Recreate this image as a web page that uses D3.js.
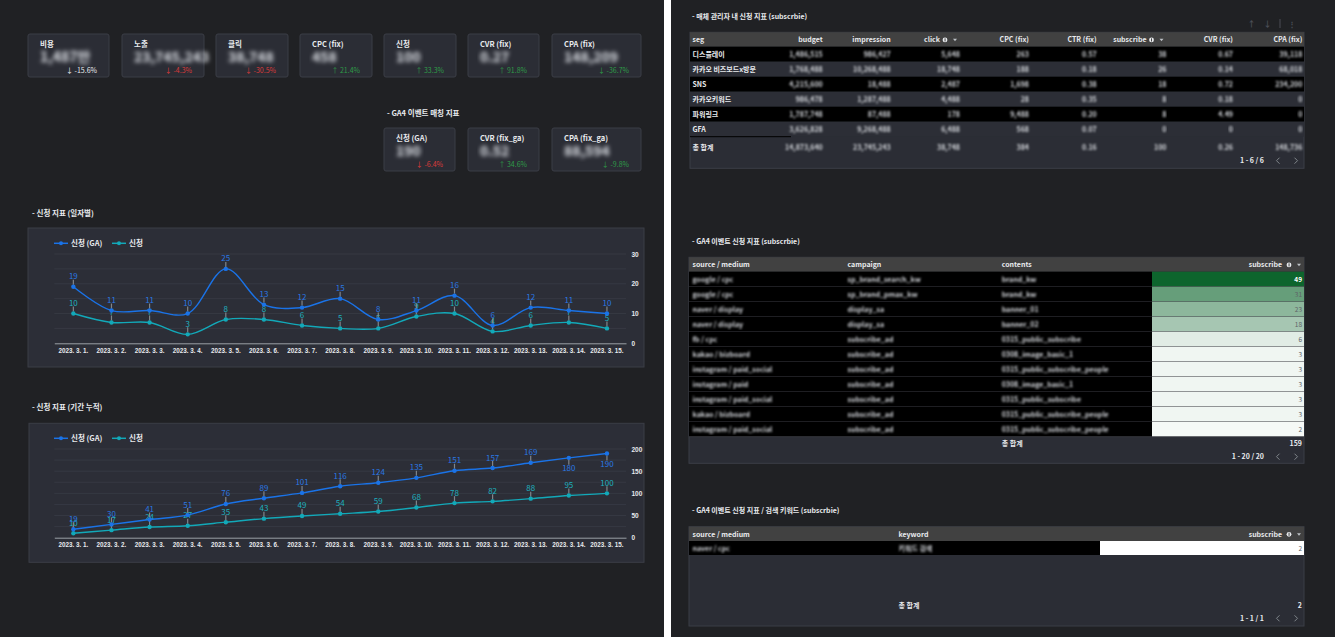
<!DOCTYPE html>
<html>
<head>
<meta charset="utf-8">
<script src="https://cdn.jsdelivr.net/npm/d3@7"></script>
<style>
  html, body { margin: 0; padding: 0; background: #202124; }
  svg { display: block; font-family: "Noto Sans CJK KR", "Noto Sans", sans-serif; }
</style>
</head>
<body>
<svg id="dash" width="1335" height="637"></svg>
<script>
// ---- KPI scorecards ----
const kpiLabels = ['비용', '노출', '클릭', 'CPC (fix)', '신청', 'CVR (fix)', 'CPA (fix)'];
const kpiValues = ['1,487만', '23,745,243', '38,748', '458', '100', '0.27', '148,209'];
const kpiDeltas = ['-15.6%', '-4.3%', '-30.5%', '21.4%', '33.3%', '91.8%', '-36.7%'];
const kpiTones  = ['flat', 'bad', 'bad', 'good', 'good', 'good', 'good'];

const gaLabels = ['신청 (GA)', 'CVR (fix_ga)', 'CPA (fix_ga)'];
const gaValues = ['190', '0.52', '88,594'];
const gaDeltas = ['-6.4%', '34.6%', '-9.8%'];
const gaTones  = ['bad', 'good', 'good'];

// ---- line charts ----
const dates = ['2023. 3. 1.', '2023. 3. 2.', '2023. 3. 3.', '2023. 3. 4.', '2023. 3. 5.',
  '2023. 3. 6.', '2023. 3. 7.', '2023. 3. 8.', '2023. 3. 9.', '2023. 3. 10.',
  '2023. 3. 11.', '2023. 3. 12.', '2023. 3. 13.', '2023. 3. 14.', '2023. 3. 15.'];
const dailyGA     = [19, 11, 11, 10, 25, 13, 12, 15, 8, 11, 16, 6, 12, 11, 10];
const dailySignup = [10, 7, 7, 3, 8, 8, 6, 5, 5, 9, 10, 4, 6, 7, 5];
const cumGA       = [19, 30, 41, 51, 76, 89, 101, 116, 124, 135, 151, 157, 169, 180, 190];
const cumSignup   = [10, 17, 24, 27, 35, 43, 49, 54, 59, 68, 78, 82, 88, 95, 100];
const seriesNames = ['신청 (GA)', '신청'];

// ---- table 1 : media manager ----
const segNames   = ['디스플레이', '카카오 비즈보드x방문', 'SNS', '카카오키워드', '파워링크', 'GFA'];
const segBudget  = ['1,486,515', '1,768,488', '4,215,600', '986,478', '1,787,748', '3,626,828'];
const segImpr    = ['986,427', '10,268,488', '18,488', '1,287,488', '87,488', '9,268,488'];
const segClick   = ['5,648', '18,748', '2,487', '4,488', '178', '6,488'];
const segCpc     = ['263', '188', '1,698', '28', '9,488', '568'];
const segCtr     = ['0.57', '0.18', '0.38', '0.35', '0.20', '0.07'];
const segSubs    = ['38', '26', '18', '8', '8', '0'];
const segCvr     = ['0.67', '0.14', '0.72', '0.18', '4.49', '0'];
const segCpa     = ['39,118', '68,018', '234,200', '0', '0', '0'];
const segTotal   = ['14,873,640', '23,745,243', '38,748', '384', '0.16', '100', '0.26', '148,736'];
const table1Heads = ['budget', 'impression', 'click', 'CPC (fix)', 'CTR (fix)', 'subscribe', 'CVR (fix)', 'CPA (fix)'];

// ---- table 2 : GA4 event subscribe ----
const srcMedium = ['google / cpc', 'google / cpc', 'naver / display', 'naver / display', 'fb / cpc',
  'kakao / bizboard', 'instagram / paid_social', 'instagram / paid', 'instagram / paid_social',
  'kakao / bizboard', 'instagram / paid_social'];
const campaigns = ['sp_brand_search_kw', 'sp_brand_pmax_kw', 'display_sa', 'display_sa', 'subscribe_ad',
  'subscribe_ad', 'subscribe_ad', 'subscribe_ad', 'subscribe_ad', 'subscribe_ad', 'subscribe_ad'];
const contents  = ['brand_kw', 'brand_kw', 'banner_01', 'banner_02', '0315_public_subscribe',
  '0308_image_basic_1', '0315_public_subscribe_people', '0308_image_basic_1', '0315_public_subscribe',
  '0315_public_subscribe_people', '0315_public_subscribe_people'];
const gaSubs    = [49, 31, 23, 18, 6, 3, 3, 3, 3, 3, 2];
const gaSubsTotal = 159;

// ---- table 3 : search keyword ----
const kwSource  = ['naver / cpc'];
const kwKeyword = ['키워드 검색'];
const kwSubs    = [2];

const colors = {
  page: '#202124', card: '#2b2d35', cardStroke: '#3b3e46', chartCard: '#2c2e37',
  grid: '#363943', text: '#e8eaed', ga: '#1a73e8', signup: '#12a9b9',
  good: '#2e9a48', bad: '#d93b3b', header: '#414141', rowAlt: '#2c2e36'
};

const svg = d3.select('#dash');

// blur filters for masked numbers
const defs = svg.append('defs');
defs.append('filter').attr('id', 'blurBig').append('feGaussianBlur').attr('stdDeviation', 2);
defs.append('filter').attr('id', 'blurSmall').append('feGaussianBlur').attr('stdDeviation', 1.2);

// background + white divider between the two pages
svg.append('rect').attr('width', 1335).attr('height', 637).attr('fill', colors.page);
svg.append('rect').attr('x', 664).attr('width', 7).attr('height', 637).attr('fill', '#ffffff');

// ---------- scorecards ----------
function scorecards(labels, values, deltas, tones, xs, widths, top) {
  labels.forEach((label, i) => {
    const g = svg.append('g').attr('transform', `translate(${xs[i]},${top})`);
    const w = widths[i];
    g.append('rect').attr('width', w).attr('height', 43).attr('rx', 2)
      .attr('fill', colors.card).attr('stroke', colors.cardStroke);
    g.append('text').attr('x', 12).attr('y', 13).attr('fill', colors.text)
      .style('font-size', '7.5px').style('font-weight', 700).text(label);
    g.append('text').attr('x', 12).attr('y', 28).attr('fill', '#dde0e6')
      .attr('filter', 'url(#blurBig)')
      .style('font-size', '14px').style('font-weight', 700).text(values[i]);
    const up = !deltas[i].startsWith('-');
    const col = tones[i] === 'good' ? colors.good : tones[i] === 'bad' ? colors.bad : colors.text;
    g.append('text').attr('x', w - 12).attr('y', 39).attr('text-anchor', 'end').attr('fill', col)
      .style('font-size', '7px')
      .text((up ? '↑ ' : '↓ ') + deltas[i]);
  });
}

scorecards(kpiLabels, kpiValues, kpiDeltas, kpiTones,
  [28, 122, 216, 300, 384, 468, 552], [81, 82, 72, 72, 72, 71, 89], 34);

svg.append('text').attr('x', 387).attr('y', 115.5).attr('fill', colors.text)
  .style('font-size', '7.5px').style('font-weight', 700).text('- GA4 이벤트 매칭 지표');

scorecards(gaLabels, gaValues, gaDeltas, gaTones, [384, 468, 552], [71, 71, 89], 128);

// ---------- line charts ----------
function lineChart(opt) {
  svg.append('text').attr('x', 32).attr('y', opt.titleY).attr('fill', colors.text)
    .style('font-size', '7.5px').style('font-weight', 700).text(opt.title);

  svg.append('rect').attr('x', opt.box[0]).attr('y', opt.box[1])
    .attr('width', opt.box[2] - opt.box[0]).attr('height', opt.box[3] - opt.box[1])
    .attr('fill', colors.chartCard).attr('stroke', colors.cardStroke);

  const x = d3.scaleBand().domain(dates).range([54.3, 626]);
  const y = d3.scaleLinear().domain([0, opt.yMax]).range([opt.bottom, opt.top]);
  const cx = d => x(d) + x.bandwidth() / 2;

  // gridlines
  svg.append('g').selectAll('line')
    .data(d3.range(opt.gridStep, opt.yMax + 1, opt.gridStep))
    .enter().append('line')
    .attr('x1', 54.3).attr('x2', 626)
    .attr('y1', d => y(d)).attr('y2', d => y(d))
    .attr('stroke', colors.grid);

  // x axis
  const xAxis = svg.append('g').attr('transform', `translate(0,${opt.bottom})`)
    .call(d3.axisBottom(x).tickSize(0).tickPadding(5));
  xAxis.select('.domain').attr('stroke', '#9aa0a6');
  xAxis.selectAll('text').attr('fill', colors.text)
    .style('font-size', '6.3px').style('font-weight', 700).style('font-family', 'inherit');

  // right y axis
  const yAxis = svg.append('g').attr('transform', 'translate(626,0)')
    .call(d3.axisRight(y).tickValues(d3.range(0, opt.yMax + 1, opt.tickStep)).tickSize(0).tickPadding(5.5));
  yAxis.select('.domain').remove();
  yAxis.selectAll('text').attr('fill', colors.text)
    .style('font-size', '6.5px').style('font-weight', 700).style('font-family', 'inherit');

  // legend
  const leg = [[54, colors.ga, seriesNames[0]], [112, colors.signup, seriesNames[1]]];
  leg.forEach(([lx, c, name]) => {
    svg.append('line').attr('x1', lx).attr('x2', lx + 14).attr('y1', opt.legendY).attr('y2', opt.legendY)
      .attr('stroke', c).attr('stroke-width', 1.5);
    svg.append('circle').attr('cx', lx + 7).attr('cy', opt.legendY).attr('r', 2).attr('fill', c);
    svg.append('text').attr('x', lx + 17).attr('y', opt.legendY + 2.8).attr('fill', colors.text)
      .style('font-size', '7.5px').style('font-weight', 700).text(name);
  });

  const line = d3.line().x((d, i) => cx(dates[i])).y(d => y(d)).curve(opt.curve);

  [[opt.series[1], colors.signup, '#1eb0bf'], [opt.series[0], colors.ga, '#2a78e4']].forEach(([vals, c, lc]) => {
    svg.append('path').datum(vals).attr('d', line)
      .attr('fill', 'none').attr('stroke', c).attr('stroke-width', 1.4);

    const pts = svg.append('g').selectAll('g').data(vals).enter().append('g')
      .attr('transform', (d, i) => `translate(${cx(dates[i])},${y(d)})`);
    // labels go below the point when they would leave the plot top
    const below = d => y(d) - 11 < opt.top;
    pts.append('line').attr('x1', 0).attr('x2', 0)
      .attr('y1', d => below(d) ? 2 : -2).attr('y2', d => below(d) ? 7 : -7)
      .attr('stroke', '#80868b').attr('stroke-width', 1.2);
    pts.append('circle').attr('r', 2.2).attr('fill', c);
    pts.append('text').attr('text-anchor', 'middle')
      .attr('y', d => below(d) ? 13.5 : -7.5)
      .attr('fill', lc).style('font-size', '8px')
      .text(d => d);
  });
}

lineChart({
  title: '- 신청 지표 (일자별)', titleY: 215.5, box: [28, 228, 644, 367],
  top: 254, bottom: 343.3, yMax: 30, gridStep: 5, tickStep: 10, legendY: 243.3,
  series: [dailyGA, dailySignup], curve: d3.curveCatmullRom.alpha(0.5)
});

lineChart({
  title: '- 신청 지표 (기간 누적)', titleY: 410, box: [29, 423.3, 644, 562.3],
  top: 449, bottom: 537.7, yMax: 200, gridStep: 25, tickStep: 50, legendY: 438.3,
  series: [cumGA, cumSignup], curve: d3.curveMonotoneX
});

// ---------- tables ----------
function sectionTitle(text, y) {
  svg.append('text').attr('x', 692).attr('y', y).attr('fill', colors.text)
    .style('font-size', '7px').style('font-weight', 700).text(text);
}

function headerIcons(right, y) {
  svg.append('circle').attr('cx', right - 12).attr('cy', y - 2.4).attr('r', 2.4).attr('fill', '#e8eaed');
  svg.append('rect').attr('x', right - 12.4).attr('y', y - 4).attr('width', 0.9).attr('height', 3.2).attr('fill', '#333');
  svg.append('path').attr('d', `M${right - 4},${y - 3.5}h4l-2,2.5z`).attr('fill', '#bdc1c6');
}

function pager(text, y) {
  svg.append('text').attr('x', 1264).attr('y', y + 2.5).attr('text-anchor', 'end').attr('fill', colors.text)
    .style('font-size', '7px').style('font-weight', 700).text(text);
  svg.append('path').attr('d', `M1279.5,${y - 3}l-3,3l3,3`).attr('fill', 'none').attr('stroke', '#80868b');
  svg.append('path').attr('d', `M1294.5,${y - 3}l3,3l-3,3`).attr('fill', 'none').attr('stroke', '#80868b');
}

function headText(x, y, t, anchor) {
  svg.append('text').attr('x', x).attr('y', y).attr('text-anchor', anchor || 'start')
    .attr('fill', colors.text).style('font-size', '7px').style('font-weight', 700).text(t);
}

function maskedText(x, y, t, anchor) {
  svg.append('text').attr('x', x).attr('y', y).attr('text-anchor', anchor || 'start')
    .attr('fill', '#d2d5da').attr('filter', 'url(#blurSmall)')
    .style('font-size', '7px').style('font-weight', 700).text(t);
}

// table 1
sectionTitle('- 매체 관리자 내 신청 지표 (subscrbie)', 18.5);
[[1251.5, '↑'], [1267.5, '↓'], [1292, '⋮']].forEach(([ix, t]) => {
  svg.append('text').attr('x', ix).attr('y', 27).attr('text-anchor', 'middle').attr('fill', '#4a4d55')
    .style('font-size', '8px').style('font-weight', 700).text(t);
});
svg.append('line').attr('x1', 1280).attr('x2', 1280).attr('y1', 19).attr('y2', 28).attr('stroke', '#4a4d55');

const t1 = { x0: 690, x1: 1304, top: 32.3, head: 14.4, row: 15 };
const t1Rights = [822.7, 890.7, 957, 1029, 1096.7, 1163.5, 1233, 1302.3];
const t1Cols = [segBudget, segImpr, segClick, segCpc, segCtr, segSubs, segCvr, segCpa];
svg.append('rect').attr('x', t1.x0).attr('y', t1.top).attr('width', t1.x1 - t1.x0).attr('height', 136)
  .attr('fill', colors.card).attr('stroke', colors.cardStroke);
svg.append('rect').attr('x', t1.x0).attr('y', t1.top).attr('width', t1.x1 - t1.x0).attr('height', t1.head)
  .attr('fill', colors.header);
const hy1 = t1.top + 10;
headText(692.5, hy1, 'seg');
table1Heads.forEach((h, j) => {
  const icons = h === 'click' || h === 'subscribe';
  headText(icons ? t1Rights[j] - 17 : t1Rights[j], hy1, h, 'end');
  if (icons) headerIcons(t1Rights[j], hy1);
});
const rowY1 = d3.scaleBand().domain(d3.range(segNames.length))
  .range([t1.top + t1.head, t1.top + t1.head + t1.row * segNames.length]);
segNames.forEach((name, i) => {
  svg.append('rect').attr('x', t1.x0).attr('y', rowY1(i)).attr('width', t1.x1 - t1.x0).attr('height', rowY1.bandwidth())
    .attr('fill', i % 2 === 0 ? '#000000' : colors.rowAlt);
  const ty = rowY1(i) + 10;
  svg.append('text').attr('x', 692.5).attr('y', ty).attr('fill', colors.text)
    .style('font-size', '7px').style('font-weight', 700).text(name);
  t1Cols.forEach((col, j) => {
    const r = j === 2 ? 960 : j === 5 ? 1166.5 : t1Rights[j];
    maskedText(r, ty, col[i], 'end');
  });
});
svg.append('line').attr('x1', t1.x0).attr('x2', 791).attr('y1', rowY1.range()[1]).attr('y2', rowY1.range()[1])
  .attr('stroke', '#000');
headText(692.5, 149.5, '총 합계');
segTotal.forEach((v, j) => {
  const r = j === 2 ? 960 : j === 5 ? 1166.5 : t1Rights[j];
  maskedText(r, 149.5, v, 'end');
});
pager('1 - 6 / 6', 160.7);

// table 2
sectionTitle('- GA4 이벤트 신청 지표 (subscrbie)', 244);
const t2 = { x0: 689, x1: 1304, top: 257.3, head: 14.4, row: 15, heatX: 1152 };
svg.append('rect').attr('x', t2.x0).attr('y', t2.top).attr('width', t2.x1 - t2.x0).attr('height', 206)
  .attr('fill', colors.card).attr('stroke', colors.cardStroke);
svg.append('rect').attr('x', t2.x0).attr('y', t2.top).attr('width', t2.x1 - t2.x0).attr('height', t2.head)
  .attr('fill', colors.header);
const hy2 = t2.top + 10;
headText(692.5, hy2, 'source / medium');
headText(847.5, hy2, 'campaign');
headText(1001.7, hy2, 'contents');
headText(1282, hy2, 'subscribe', 'end');
headerIcons(1301, hy2);

const heat = d3.scaleLinear().domain([0, d3.max(gaSubs)]).range(['#ffffff', '#0d652d']);
const rowY2 = d3.scaleBand().domain(d3.range(gaSubs.length))
  .range([t2.top + t2.head, t2.top + t2.head + t2.row * gaSubs.length]);
gaSubs.forEach((v, i) => {
  const ry = rowY2(i);
  svg.append('rect').attr('x', t2.x0).attr('y', ry).attr('width', t2.heatX - t2.x0).attr('height', 15)
    .attr('fill', '#000');
  svg.append('rect').attr('x', t2.heatX).attr('y', ry).attr('width', t2.x1 - t2.heatX).attr('height', 15)
    .attr('fill', heat(v));
  svg.append('line').attr('x1', t2.x0).attr('x2', t2.x1).attr('y1', ry + 15).attr('y2', ry + 15)
    .attr('stroke', '#3d3f45').attr('stroke-width', 0.8);
  const ty = ry + 10;
  maskedText(692.5, ty, srcMedium[i]);
  maskedText(847.5, ty, campaigns[i]);
  maskedText(1001.7, ty, contents[i]);
  svg.append('text').attr('x', 1302).attr('y', ty).attr('text-anchor', 'end')
    .attr('fill', i === 0 ? '#ffffff' : '#5f6368')
    .style('font-size', '6.5px').style('font-weight', i === 0 ? 700 : 400).text(v);
});
headText(1001.7, 445.5, '총 합계');
headText(1302, 445.5, gaSubsTotal, 'end');
pager('1 - 20 / 20', 456.7);

// table 3
sectionTitle('- GA4 이벤트 신청 지표 / 검색 키워드 (subscrbie)', 513);
const t3 = { x0: 689, x1: 1304, top: 526.7, head: 14.3, row: 14, whiteX: 1100 };
svg.append('rect').attr('x', t3.x0).attr('y', t3.top).attr('width', t3.x1 - t3.x0).attr('height', 99.3)
  .attr('fill', colors.card).attr('stroke', colors.cardStroke);
svg.append('rect').attr('x', t3.x0).attr('y', t3.top).attr('width', t3.x1 - t3.x0).attr('height', t3.head)
  .attr('fill', colors.header);
const hy3 = t3.top + 10;
headText(692.5, hy3, 'source / medium');
headText(898.5, hy3, 'keyword');
headText(1282, hy3, 'subscribe', 'end');
headerIcons(1301, hy3);
kwSubs.forEach((v, i) => {
  const ry = t3.top + t3.head + i * t3.row;
  svg.append('rect').attr('x', t3.x0).attr('y', ry).attr('width', t3.whiteX - t3.x0).attr('height', t3.row).attr('fill', '#000');
  svg.append('rect').attr('x', t3.whiteX).attr('y', ry).attr('width', t3.x1 - t3.whiteX).attr('height', t3.row).attr('fill', '#fff');
  maskedText(692.5, ry + 9.5, kwSource[i]);
  maskedText(898.5, ry + 9.5, kwKeyword[i]);
  svg.append('text').attr('x', 1302).attr('y', ry + 9.5).attr('text-anchor', 'end').attr('fill', '#5f6368')
    .style('font-size', '6.5px').text(v);
});
headText(898.5, 607.5, '총 합계');
headText(1302, 607.5, d3.sum(kwSubs), 'end');
pager('1 - 1 / 1', 618.3);
</script>
</body>
</html>
